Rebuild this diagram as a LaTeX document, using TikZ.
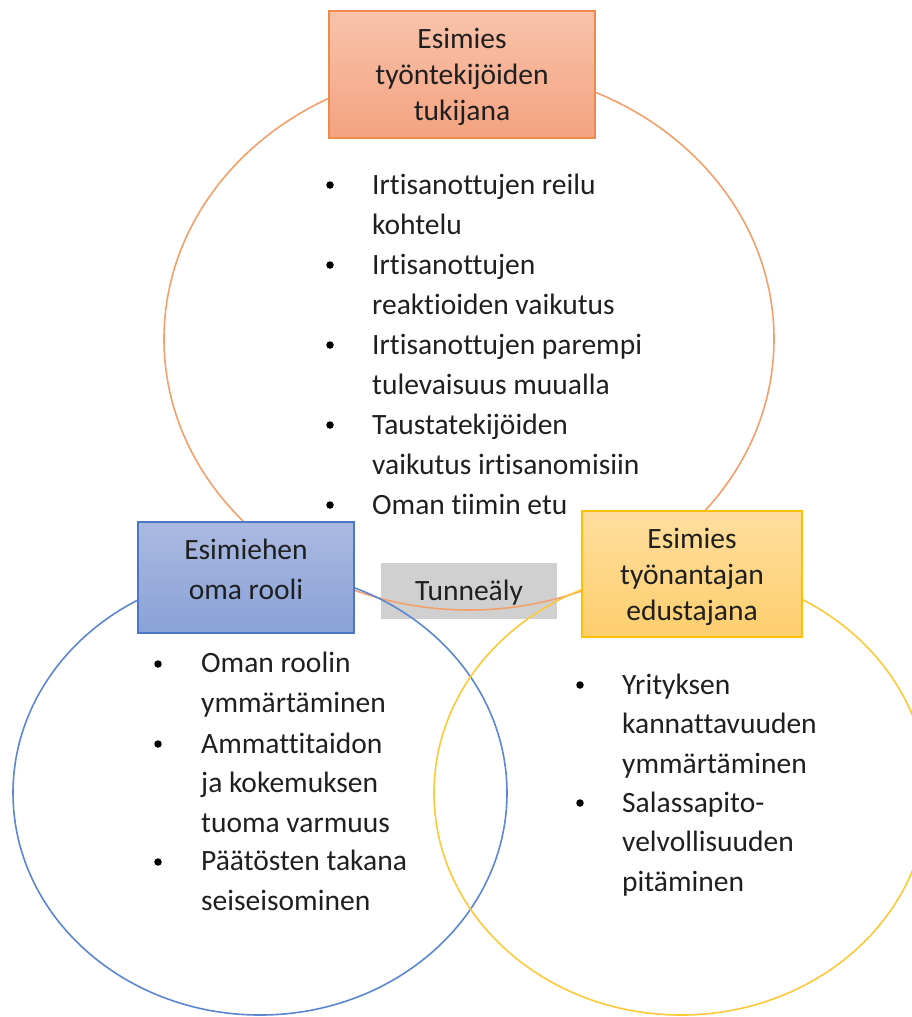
\documentclass[tikz,border=0pt]{standalone}
\usepackage{fontspec}
\setmainfont{Carlito}[RawFeature={-liga;-clig;-calt;-dlig}]
\begin{document}
\begin{tikzpicture}[x=1pt,y=-1pt,
  ring/.style={line width=1.6pt},
  box/.style={draw, line width=1.2pt, inner sep=0pt, minimum width=#1},
  headtext/.style={anchor=base, align=center, inner sep=0pt, text=black!88,
    font=\fontsize{29.5}{#1}\selectfont},
  item/.style={anchor=base west, align=left, inner sep=0pt,
    font=\fontsize{29.5}{39.5}\selectfont, text=black!88},
  dot/.style={circle, fill=black, inner sep=0pt, minimum size=7.5pt}]
\definecolor{oline}{HTML}{F4A06A}
\definecolor{otop}{HTML}{F8C3AA}
\definecolor{obot}{HTML}{F4A280}
\definecolor{oedge}{HTML}{F08A4B}
\definecolor{bline}{HTML}{5B87D2}
\definecolor{btop}{HTML}{AAB9E1}
\definecolor{bbot}{HTML}{8AA2D8}
\definecolor{bedge}{HTML}{4D76C6}
\definecolor{yline}{HTML}{FFC839}
\definecolor{ytop}{HTML}{FFDE9E}
\definecolor{ybot}{HTML}{FFCE6E}
\definecolor{yedge}{HTML}{FFC000}
\definecolor{gfill}{HTML}{D0D0D0}
\useasboundingbox (0,0) rectangle (912,1017);

% shared area between the three roles
\node[fill=gfill, minimum width=176pt, minimum height=56pt, inner sep=0pt] (eq) at (469,591) {};
\node[headtext=30] (eqt) at (469,600) {Tunneäly};

% the three circles
\draw[ring, oline] (469,339) ellipse [x radius=305, y radius=271];
\draw[ring, bline] (260,793) ellipse [x radius=247, y radius=222];
\draw[ring, yline] (681,793) ellipse [x radius=247, y radius=222];

% role headings
\node[box=266pt, minimum height=127pt, draw=oedge, top color=otop, bottom color=obot]
  (top) at (462,74.5) {};
\node[headtext=36] (topt) at (462,120) {Esimies\\työntekijöiden\\tukijana};
\node[box=216pt, minimum height=111pt, draw=bedge, top color=btop, bottom color=bbot]
  (own) at (246,577.5) {};
\node[headtext=40] (ownt) at (246,599) {Esimiehen\\oma rooli};
\node[box=220pt, minimum height=126pt, draw=yedge, top color=ytop, bottom color=ybot]
  (emp) at (692,574) {};
\node[headtext=36] (empt) at (692,620) {Esimies\\työnantajan\\edustajana};

% supporting the employees
\node[item] (a1) at (372,234) {Irtisanottujen reilu\\kohtelu};
\node[item] (a2) at (372,314) {Irtisanottujen\\reaktioiden vaikutus};
\node[item] (a3) at (372,394) {Irtisanottujen parempi\\tulevaisuus muualla};
\node[item] (a4) at (372,474) {Taustatekijöiden\\vaikutus irtisanomisiin};
\node[item] (a5) at (372,514) {Oman tiimin etu};
\foreach \i/\y in {1/185,2/265,3/345,4/425,5/505}
  \node[dot] (ad\i) at (330,\y) {};

% own role
\node[item] (b1) at (201,712) {Oman roolin\\ymmärtäminen};
\node[item] (b2) at (201,832) {Ammattitaidon\\ja kokemuksen\\tuoma varmuus};
\node[item] (b3) at (201,910) {Päätösten takana\\seiseisominen};
\foreach \i/\y in {1/664,2/744,3/862}
  \node[dot] (bd\i) at (158,\y) {};

% representing the employer
\node[item] (c1) at (622,773) {Yrityksen\\kannattavuuden\\ymmärtäminen};
\node[item] (c2) at (622,891) {Salassapito-\\velvollisuuden\\pitäminen};
\foreach \i/\y in {1/685,2/803}
  \node[dot] (cd\i) at (580,\y) {};
\end{tikzpicture}
\end{document}
